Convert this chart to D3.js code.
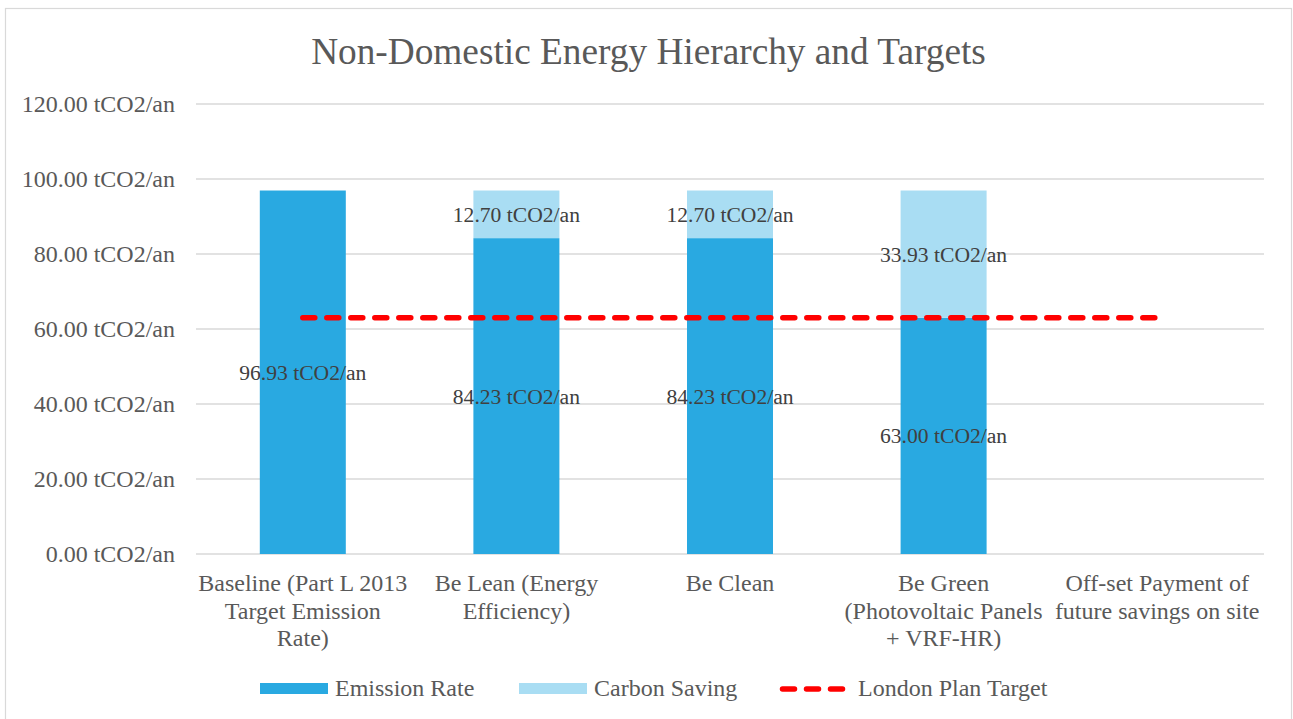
<!DOCTYPE html>
<html>
<head>
<meta charset="utf-8">
<script src="https://cdn.jsdelivr.net/npm/d3@7"></script>
<style>
  html, body { margin: 0; padding: 0; background: #fff; }
  svg { display: block; }
  svg text { font-family: 'Liberation Serif', 'Tinos', 'Times New Roman', 'DejaVu Serif', serif; }
</style>
</head>
<body>
<svg id="chart" width="1293" height="719"></svg>
<script>
// Chart data
const categories = [
  ["Baseline (Part L 2013", "Target Emission", "Rate)"],
  ["Be Lean (Energy", "Efficiency)"],
  ["Be Clean"],
  ["Be Green", "(Photovoltaic Panels", "+ VRF-HR)"],
  ["Off-set Payment of", "future savings on site"]
];
const emissionRate = [96.93, 84.23, 84.23, 63.00, null];
const carbonSaving = [null, 12.70, 12.70, 33.93, null];
const londonPlanTarget = [63.0, 63.0, 63.0, 63.0, 63.0];
const yTicks = [0, 20, 40, 60, 80, 100, 120];
const unit = " tCO2/an";

const colors = { emission: "#29a9e1", saving: "#a9ddf3", target: "#ff0000" };

const svg = d3.select("#chart");
const plot = { left: 196, right: 1264, top: 104, bottom: 554 };

// Outer frame
svg.append("rect")
  .attr("x", 5.5).attr("y", 8.5)
  .attr("width", 1286).attr("height", 720)
  .attr("fill", "#fff").attr("stroke", "#d9d9d9").attr("stroke-width", 1.2);

// Title
svg.append("text")
  .attr("x", 648.5).attr("y", 63.5)
  .attr("text-anchor", "middle")
  .attr("fill", "#595959")
  .attr("font-size", 37.3)
  .text("Non-Domestic Energy Hierarchy and Targets");

const x = d3.scaleBand()
  .domain(d3.range(categories.length))
  .range([plot.left, plot.right])
  .paddingInner(0.6).paddingOuter(0.3);

const y = d3.scaleLinear().domain([0, 120]).range([plot.bottom, plot.top]);

// Gridlines
svg.append("g")
  .selectAll("line")
  .data(yTicks)
  .join("line")
  .attr("x1", plot.left).attr("x2", plot.right)
  .attr("y1", d => y(d)).attr("y2", d => y(d))
  .attr("stroke", "#d9d9d9").attr("stroke-width", 1.5);

// Y axis labels
const yAxis = d3.axisLeft(y).tickValues(yTicks)
  .tickFormat(d => d3.format(".2f")(d) + unit)
  .tickSize(0).tickPadding(0);
const yG = svg.append("g").attr("transform", `translate(175,0)`).call(yAxis);
yG.attr("font-family", null);
yG.select(".domain").remove();
yG.selectAll("text")
  .attr("fill", "#595959")
  .attr("font-size", 24);

// Stacked bars
const stackData = categories.map((c, i) => ({
  i,
  emission: emissionRate[i] || 0,
  saving: carbonSaving[i] || 0
}));
const stack = d3.stack().keys(["emission", "saving"])(stackData);

const barW = 86;
const barX = i => x(i) + x.bandwidth() / 2 - barW / 2;

const layers = svg.append("g").selectAll("g")
  .data(stack)
  .join("g")
  .attr("fill", d => d.key === "emission" ? colors.emission : colors.saving);

layers.selectAll("rect")
  .data(d => d.filter(s => s[1] - s[0] > 0))
  .join("rect")
  .attr("x", d => barX(d.data.i))
  .attr("width", barW)
  .attr("y", d => y(d[1]))
  .attr("height", d => y(d[0]) - y(d[1]));

// Bar value labels
const labels = svg.append("g")
  .attr("fill", "#404040")
  .attr("font-size", 21.6)
  .attr("text-anchor", "middle");
stack.forEach(layer => {
  layer.forEach(s => {
    const v = s[1] - s[0];
    if (v <= 0) return;
    labels.append("text")
      .attr("x", x(s.data.i) + x.bandwidth() / 2)
      .attr("y", y((s[0] + s[1]) / 2))
      .attr("dy", "0.35em")
      .text(d3.format(".2f")(v) + unit);
  });
});

// London Plan Target line
const cx = i => x(i) + x.bandwidth() / 2;
svg.append("path")
  .datum(londonPlanTarget)
  .attr("d", d3.line().x((d, i) => cx(i)).y(d => y(d)))
  .attr("fill", "none")
  .attr("stroke", colors.target)
  .attr("stroke-width", 5.5)
  .attr("stroke-linecap", "round")
  .attr("stroke-dasharray", "12,12");

// Category labels
const catG = svg.append("g")
  .attr("fill", "#595959")
  .attr("font-size", 24)
  .attr("text-anchor", "middle");
categories.forEach((lines, i) => {
  const t = catG.append("text").attr("x", cx(i)).attr("y", 591);
  lines.forEach((ln, k) => {
    t.append("tspan").attr("x", cx(i)).attr("dy", k === 0 ? 0 : 27.5).text(ln);
  });
});

// Legend
const legend = svg.append("g").attr("font-size", 24).attr("fill", "#595959");
const legendItems = [
  { label: "Emission Rate", type: "rect", color: colors.emission, x: 260 },
  { label: "Carbon Saving", type: "rect", color: colors.saving, x: 519 },
  { label: "London Plan Target", type: "line", color: colors.target, x: 780 }
];
legendItems.forEach(it => {
  if (it.type === "rect") {
    legend.append("rect").attr("x", it.x).attr("y", 683)
      .attr("width", 68).attr("height", 11).attr("fill", it.color);
  } else {
    legend.append("line")
      .attr("x1", it.x + 2.5).attr("x2", it.x + 63)
      .attr("y1", 689).attr("y2", 689)
      .attr("stroke", it.color).attr("stroke-width", 5.5)
      .attr("stroke-linecap", "round")
      .attr("stroke-dasharray", "12,12");
  }
  legend.append("text")
    .attr("x", it.x + (it.type === "rect" ? 75 : 78))
    .attr("y", 696)
    .text(it.label);
});
</script>
</body>
</html>
